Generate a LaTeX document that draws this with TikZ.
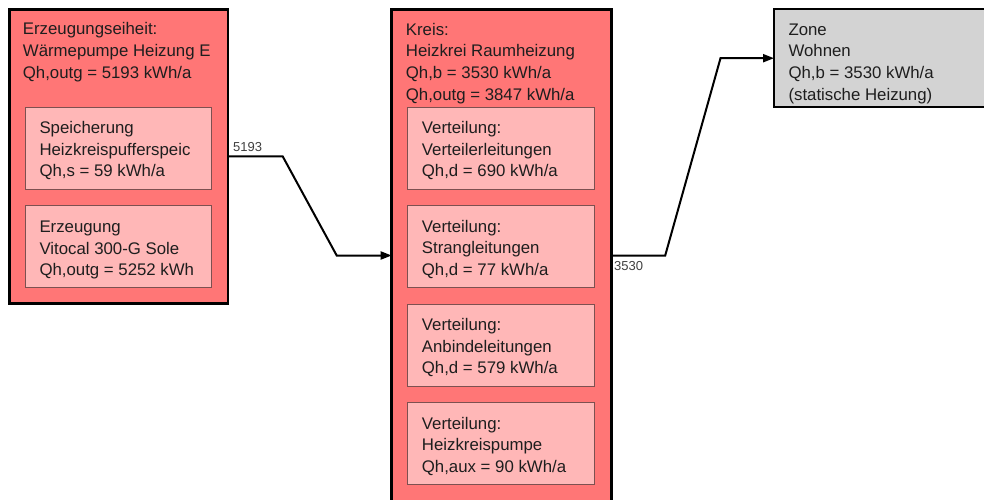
\documentclass[tikz,border=0pt]{standalone}
\usepackage{fontspec}
\setmainfont{Liberation Sans}
\usetikzlibrary{arrows.meta}
\definecolor{outerred}{RGB}{255,118,118}
\definecolor{innerpink}{RGB}{255,183,183}
\definecolor{innerline}{RGB}{125,80,80}
\definecolor{zonegray}{RGB}{211,211,211}
\definecolor{txt}{RGB}{30,30,30}
\tikzset{
  outerbox/.style={draw=black, line width=2.5pt, fill=outerred, rectangle, anchor=north west, inner sep=0pt, outer sep=0pt},
  zonebox/.style={draw=black, line width=2.5pt, fill=zonegray, rectangle, anchor=north west, inner sep=0pt, outer sep=0pt},
  innerbox/.style={draw=innerline, line width=1pt, fill=innerpink, rectangle, anchor=north west, inner sep=0pt, outer sep=0pt, minimum height=82pt},
  txtA/.style={anchor=north west, inner sep=0pt, align=left, text=txt, font=\fontsize{16.8}{21.6}\selectfont},
  txtB/.style={anchor=north west, inner sep=0pt, align=left, text=txt, font=\fontsize{16.8}{22}\selectfont},
  lbl/.style={anchor=base west, inner sep=0pt, text=txt!85, font=\fontsize{13}{14}\selectfont},
  conn/.style={draw=black, line width=2pt, -{Triangle[length=11pt,width=8pt]}},
}
\begin{document}
\begin{tikzpicture}[x=1pt,y=-1pt]
\clip (0,0) rectangle (984,500);
\fill[white] (0,0) rectangle (984,500);
% left unit
\node[outerbox, minimum width=218.7pt, minimum height=294.2pt] (gen) at (9.3,9.3) {};
\node[txtB] (gentxt) at (22.7,18.6) {\strut Erzeugungseiheit:\\Wärmepumpe Heizung E\\Qh,outg = 5193 kWh/a};
\node[innerbox, minimum width=186pt] (spe) at (25.3,107.3) {};
\node[txtA] (spetxt) at (39.3,118.2) {\strut Speicherung\\Heizkreispufferspeic\\Qh,s = 59 kWh/a};
\node[innerbox, minimum width=186pt] (erz) at (25.3,205.7) {};
\node[txtA] (erztxt) at (39.3,217.2) {\strut Erzeugung\\Vitocal 300-G Sole\\Qh,outg = 5252 kWh};
% middle circuit
\node[outerbox, minimum width=220pt, minimum height=492pt] (circ) at (391.7,9.5) {};
\node[txtA] (circtxt) at (405.7,20) {\strut Kreis:\\Heizkrei Raumheizung\\Qh,b = 3530 kWh/a\\Qh,outg = 3847 kWh/a};
\node[innerbox, minimum width=186.6pt] (v1) at (407.7,107.3) {};
\node[txtA] (v1txt) at (421.7,118.2) {\strut Verteilung:\\Verteilerleitungen\\Qh,d = 690 kWh/a};
\node[innerbox, minimum width=186.6pt] (v2) at (407.7,205.7) {};
\node[txtA] (v2txt) at (421.7,216.8) {\strut Verteilung:\\Strangleitungen\\Qh,d = 77 kWh/a};
\node[innerbox, minimum width=186.6pt] (v3) at (407.7,304) {};
\node[txtA] (v3txt) at (421.7,315.2) {\strut Verteilung:\\Anbindeleitungen\\Qh,d = 579 kWh/a};
\node[innerbox, minimum width=186.6pt] (v4) at (407.7,402.7) {};
\node[txtA] (v4txt) at (421.7,413.8) {\strut Verteilung:\\Heizkreispumpe\\Qh,aux = 90 kWh/a};
% zone
\node[zonebox, minimum width=230pt, minimum height=98pt] (zone) at (774,9.2) {};
\node[txtA] (zonetxt) at (788.3,19.9) {\strut Zone\\Wohnen\\Qh,b = 3530 kWh/a\\(statische Heizung)};
% connectors
\draw[conn] (gen.east) -- ++(54.7,0) -- ([xshift=-55pt]circ.west) -- (circ.west);
\draw[conn] (circ.east) -- ++(53.5,0) -- ([xshift=-53.5pt]zone.west) -- (zone.west);
\node[lbl] (l1) at (233,151.5) {5193};
\node[lbl] (l2) at (614,270.5) {3530};
\end{tikzpicture}
\end{document}
